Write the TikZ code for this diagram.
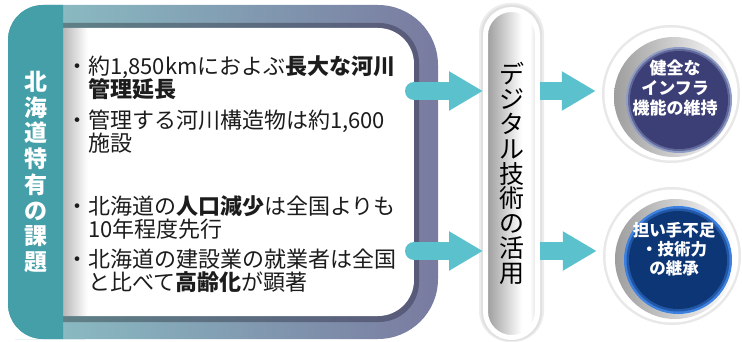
\documentclass[tikz,border=0pt]{standalone}
\usepackage{fontspec}
\setmainfont{Noto Sans CJK JP}
\usetikzlibrary{arrows.meta}
\definecolor{tealc}{HTML}{449FA8}
\definecolor{frameL}{HTML}{8CC2C6}
\definecolor{frameR}{HTML}{797BA0}
\definecolor{shadL}{HTML}{5F8087}
\definecolor{shadR}{HTML}{595A7A}
\definecolor{arrowc}{HTML}{5BC2CD}
\definecolor{navyA}{HTML}{3C3E76}
\definecolor{rimA}{HTML}{8E9CC4}
\definecolor{navyB}{HTML}{0C3675}
\definecolor{rimB}{HTML}{3C80E0}
\definecolor{inkc}{HTML}{1C1C1C}
\newcommand{\tightlines}{\setlength{\lineskiplimit}{-50pt}}
\pgfdeclarehorizontalshading{whiteleft}{100bp}{color(0bp)=(black!28); color(25bp)=(black!28); color(28.5bp)=(white); color(100bp)=(white)}
\pgfdeclarehorizontalshading{pillshade}{100bp}{color(0bp)=(black!40); color(25bp)=(black!40); color(60bp)=(white); color(68bp)=(white); color(75bp)=(black!14); color(100bp)=(black!14)}
\begin{document}
\begin{tikzpicture}[x=1pt,y=-1pt,
  bodytext/.style={anchor=north west, inner sep=0pt, align=left, text=inkc, font={\fontsize{22}{23}\selectfont\tightlines}},
  vtext/.style={align=center, inner sep=0pt},
  flow/.style={draw=arrowc, line width=18pt, -{Triangle[length=34pt,width=37pt]}},
  result/.style={text=white, align=center, inner sep=0pt}]
\useasboundingbox (0,0) rectangle (742,342);
% frame
\shade[left color=frameL, right color=frameR] (8,170) [rounded corners=35pt] -- (8,5) -- (200,5) [rounded corners=60pt] -- (438,5) -- (438,339) -- (200,339) [rounded corners=35pt] -- (8,339) -- cycle;
\shade[left color=shadL, right color=shadR] (63,23) -- (300,23) [rounded corners=40pt] -- (419,23) -- (419,322) -- (300,322) [sharp corners] -- (63,322) -- cycle;
\shade[shading=whiteleft] (63,28) -- (300,28) [rounded corners=36pt] -- (414,28) -- (414,316) -- (300,316) [sharp corners] -- (63,316) -- cycle;
\fill[tealc] (50,5) [rounded corners=35pt] -- (8,5) -- (8,339) -- (50,339) [sharp corners] -- (63,339) -- (63,5) -- cycle;
\coordinate (boxE1) at (414,91);
\coordinate (boxE2) at (414,251);
% title
\node[vtext, name=title, text=white, font={\bfseries\fontsize{23}{25.7}\selectfont\tightlines}] at (36,172) {北\\海\\道\\特\\有\\の\\課\\題};
% items
\node[bodytext, name=item1] at (66,55) {・約1,850kmにおよぶ\textbf{長大な河川}\\\hspace*{1em}\textbf{管理延長}};
\node[bodytext, name=item2] at (66,110) {・管理する河川構造物は約1,600\\\hspace*{1em}施設};
\node[bodytext, name=item3] at (66,195) {・北海道の\textbf{人口減少}は全国よりも\\\hspace*{1em}10年程度先行};
\node[bodytext, name=item4] at (66,249) {・北海道の建設業の就業者は全国\\\hspace*{1em}と比べて\textbf{高齢化}が顕著};
% pill
\fill[black!7, rounded corners=31pt] (479,3) rectangle (544,342);
\fill[black!12, rounded corners=29pt] (481,5) rectangle (542,341);
\node[vtext, name=digital, shade, shading=pillshade, draw=white, line width=5pt, rounded corners=26pt, minimum width=52pt, minimum height=328pt, font={\fontsize{25}{24.8}\selectfont\tightlines}] at (511.5,173.5) {デ\\ジ\\タ\\ル\\技\\術\\の\\活\\用};
% result 1
\fill[black!9] (671,94) circle (69);
\fill[white] (671,94) circle (66.5);
\shade[left color=black!38, right color=white] (674,97) circle (60);
\fill[rimA] (679,100) circle (53);
\fill[navyA!55!rimA] (679,100) circle (51);
\fill[navyA] (679,100) circle (49);
\node[name=infra, circle, minimum size=138pt, inner sep=0pt] at (671,94) {};
\node[result, name=infratext, font={\bfseries\fontsize{17}{20}\selectfont\tightlines}] at (675,88) {健全な\\インフラ\\機能の維持};
% result 2
\fill[black!9] (672,256) circle (69);
\fill[white] (672,256) circle (66.5);
\shade[left color=black!38, right color=white] (675,259) circle (60);
\fill[rimB] (678,260) circle (54);
\fill[navyB!55!rimB] (678,260) circle (51.5);
\fill[navyB] (678,260) circle (49);
\node[name=workforce, circle, minimum size=138pt, inner sep=0pt] at (672,256) {};
\node[result, name=worktext, font={\bfseries\fontsize{16.5}{19}\selectfont\tightlines}] at (674,249) {担い手不足\\・技術力\\の継承};
% arrows
\draw[flow, line cap=round] (boxE1) -- (digital.west |- boxE1);
\draw[flow, line cap=round] (boxE2) -- (digital.west |- boxE2);
\draw[flow, shorten >=6pt] (digital.east |- boxE1) -- (infra.west |- boxE1);
\draw[flow, shorten >=6pt] (digital.east |- boxE2) -- (workforce.west |- boxE2);
\end{tikzpicture}
\end{document}
